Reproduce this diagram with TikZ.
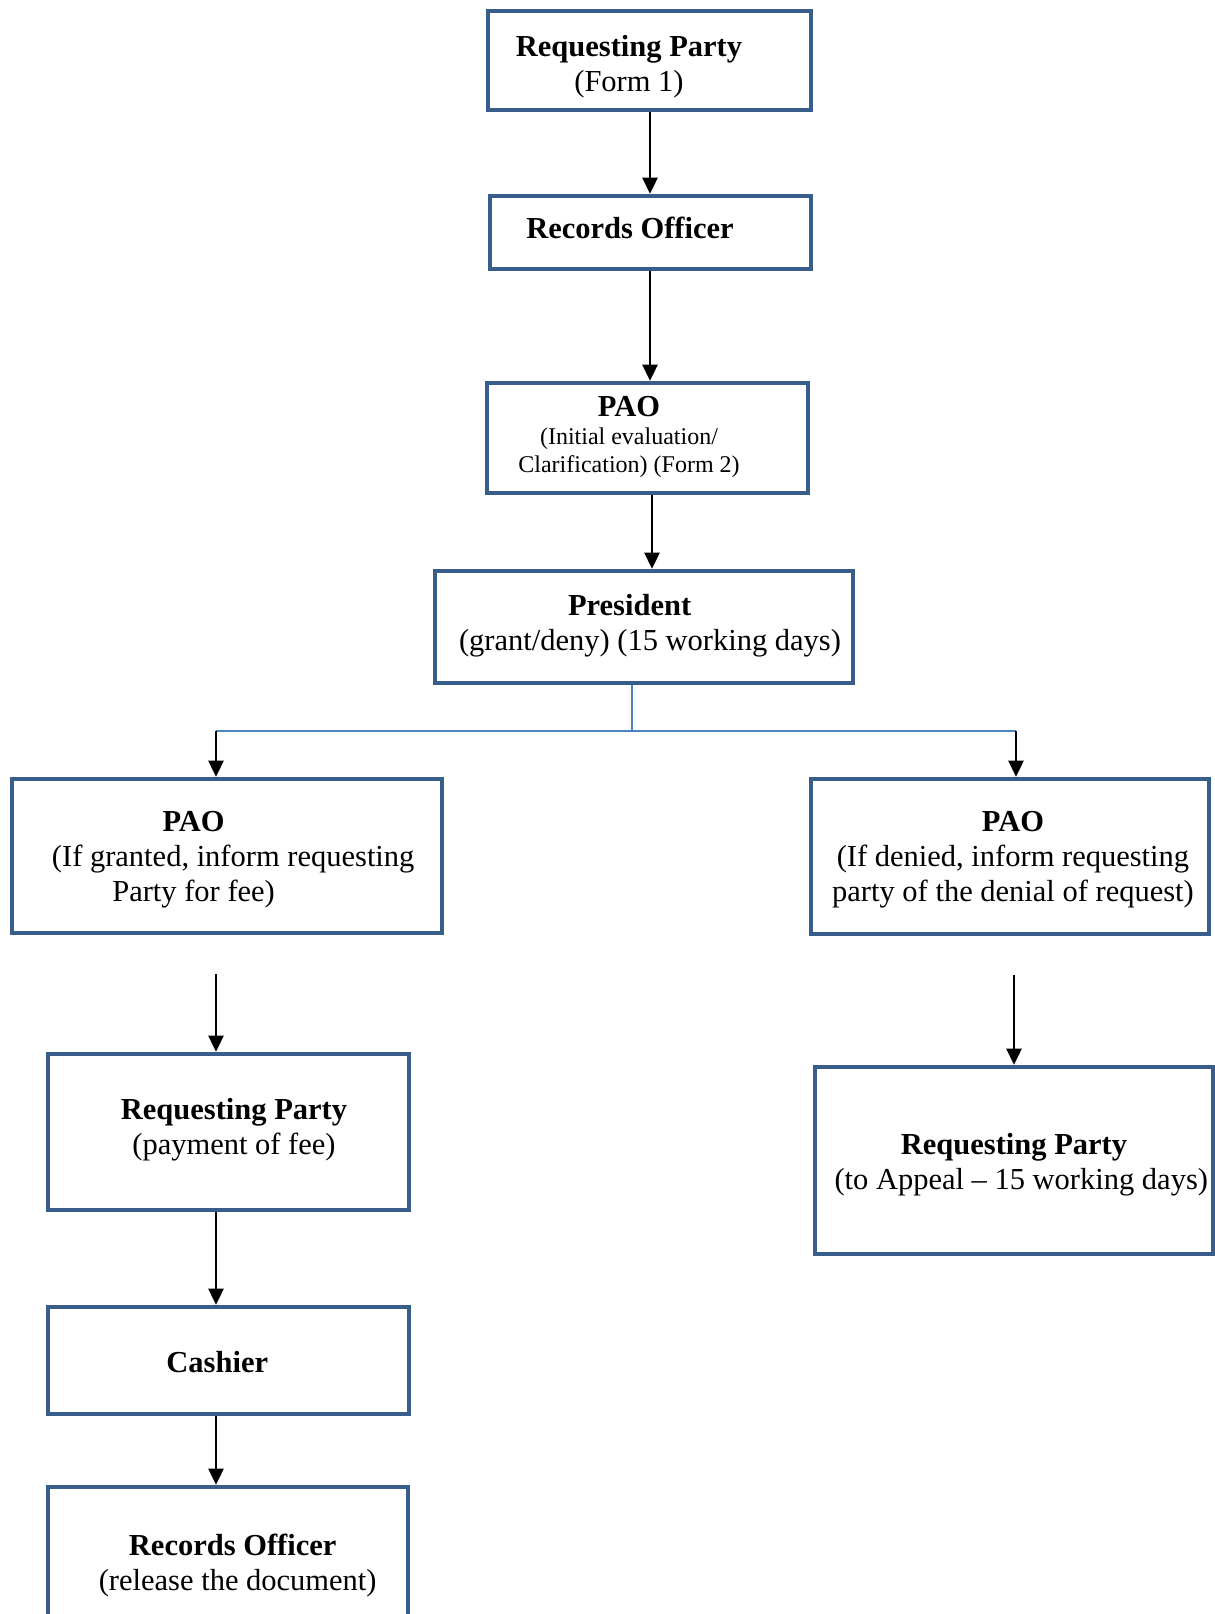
\documentclass[tikz,border=0pt]{standalone}
\usepackage{fontspec}
\setmainfont{Liberation Serif}
\usepackage{tikz}
\usetikzlibrary{arrows.meta}
\definecolor{boxblue}{RGB}{56,93,138}
\definecolor{linkblue}{RGB}{79,129,189}
\newcommand{\mainfs}{\fontsize{15.25}{17.5}\selectfont}
\newcommand{\smallfs}{\fontsize{12}{14}\selectfont}
\tikzstyle{flow}=[
  >={Triangle[length=8pt,width=7.5pt]}, x=0.5pt, y=-0.5pt
]
\tikzstyle{flowbox}=[
  draw=boxblue, line width=2.3pt, inner sep=0pt
]
\tikzstyle{boxtext}=[
  align=center, font=\mainfs, inner sep=0pt
]
\tikzstyle{flowarrow}=[
  ->, line width=1.3pt
]
\tikzstyle{split}=[
  draw=linkblue, line width=0.8pt
]

\begin{document}
\begin{tikzpicture}[flow]
    \def\pxu{0.5pt}
    \clip (0,0) rectangle (1215,1614);
    % boxes
    \node (rp1) at (649.5,60.5) [flowbox, minimum width=323*\pxu, minimum height=99*\pxu] {};
    \node (ro1) at (650.5,232.5) [flowbox, minimum width=321*\pxu, minimum height=73*\pxu] {};
    \node (pao1) at (647.5,438) [flowbox, minimum width=321*\pxu, minimum height=110*\pxu] {};
    \node (pres) at (644,627) [flowbox, minimum width=418*\pxu, minimum height=112*\pxu] {};
    \node (paoL) at (227,856) [flowbox, minimum width=430*\pxu, minimum height=154*\pxu] {};
    \node (paoR) at (1010,856.5) [flowbox, minimum width=398*\pxu, minimum height=155*\pxu] {};
    \node (rpL) at (228.5,1132) [flowbox, minimum width=361*\pxu, minimum height=156*\pxu] {};
    \node (cash) at (228.5,1360.5) [flowbox, minimum width=361*\pxu, minimum height=107*\pxu] {};
    \node (roL) at (228,1567) [flowbox, minimum width=360*\pxu, minimum height=160*\pxu] {};
    \node (rpR) at (1014,1160.5) [flowbox, minimum width=398*\pxu, minimum height=187*\pxu] {};
    % texts
    \node (rp1t) at (629,67) [boxtext] {\textbf{Requesting Party}\\(Form 1)};
    \node (ro1t) at (630,228) [boxtext] {\textbf{Records Officer}};
    \node (pao1t) at (629,436.5) [boxtext, font=\smallfs] {{\mainfs\textbf{PAO}}\\(Initial evaluation/\\Clarification) (Form 2)};
    \node (prest) at (629.6,626) [boxtext] {\textbf{President}\\\hspace*{20.4pt}(grant/deny) (15 working days)};
    \node (paoLt) at (193.6,859.5) [boxtext] {\textbf{PAO}\\\hspace*{39.6pt}(If granted, inform requesting\\Party for fee)};
    \node (paoRt) at (1013,859.5) [boxtext] {\textbf{PAO}\\(If denied, inform requesting\\party of the denial of request)};
    \node (rpLt) at (234,1129.5) [boxtext] {\textbf{Requesting Party}\\(payment of fee)};
    \node (casht) at (217.3,1362) [boxtext] {\textbf{Cashier}};
    \node (roLt) at (232.7,1565) [boxtext] {\textbf{Records Officer}\\\hspace*{5pt}(release the document)};
    \node (rpRt) at (1014,1165) [boxtext] {\textbf{Requesting Party}\\\hspace*{7.3pt}(to Appeal -- 15 working days)};
    % fork below the president
    \coordinate (fork) at (632,731);
    \coordinate (forkL) at (216,731);
    \coordinate (forkR) at (1016,731);
    \draw [split] (pres.south -| fork) -- (fork);
    \draw [split] (forkL) -- (forkR);
    % arrows
    \draw [flowarrow] (rp1.south -| 650,0) -- (ro1.north -| 650,0);
    \draw [flowarrow] (ro1.south -| 650,0) -- (pao1.north -| 650,0);
    \draw [flowarrow] (pao1.south -| 652,0) -- (pres.north -| 652,0);
    \draw [flowarrow] (forkL) -- (forkL |- paoL.north);
    \draw [flowarrow] (forkR) -- (forkR |- paoR.north);
    \draw [flowarrow, shorten <=19.5pt] (paoL.south -| forkL) -- (rpL.north -| forkL);
    \draw [flowarrow, shorten <=19.5pt] (paoR.south -| 1014,0) -- (rpR.north -| 1014,0);
    \draw [flowarrow] (rpL.south -| forkL) -- (cash.north -| forkL);
    \draw [flowarrow] (cash.south -| forkL) -- (roL.north -| forkL);
  \end{tikzpicture}
\end{document}
